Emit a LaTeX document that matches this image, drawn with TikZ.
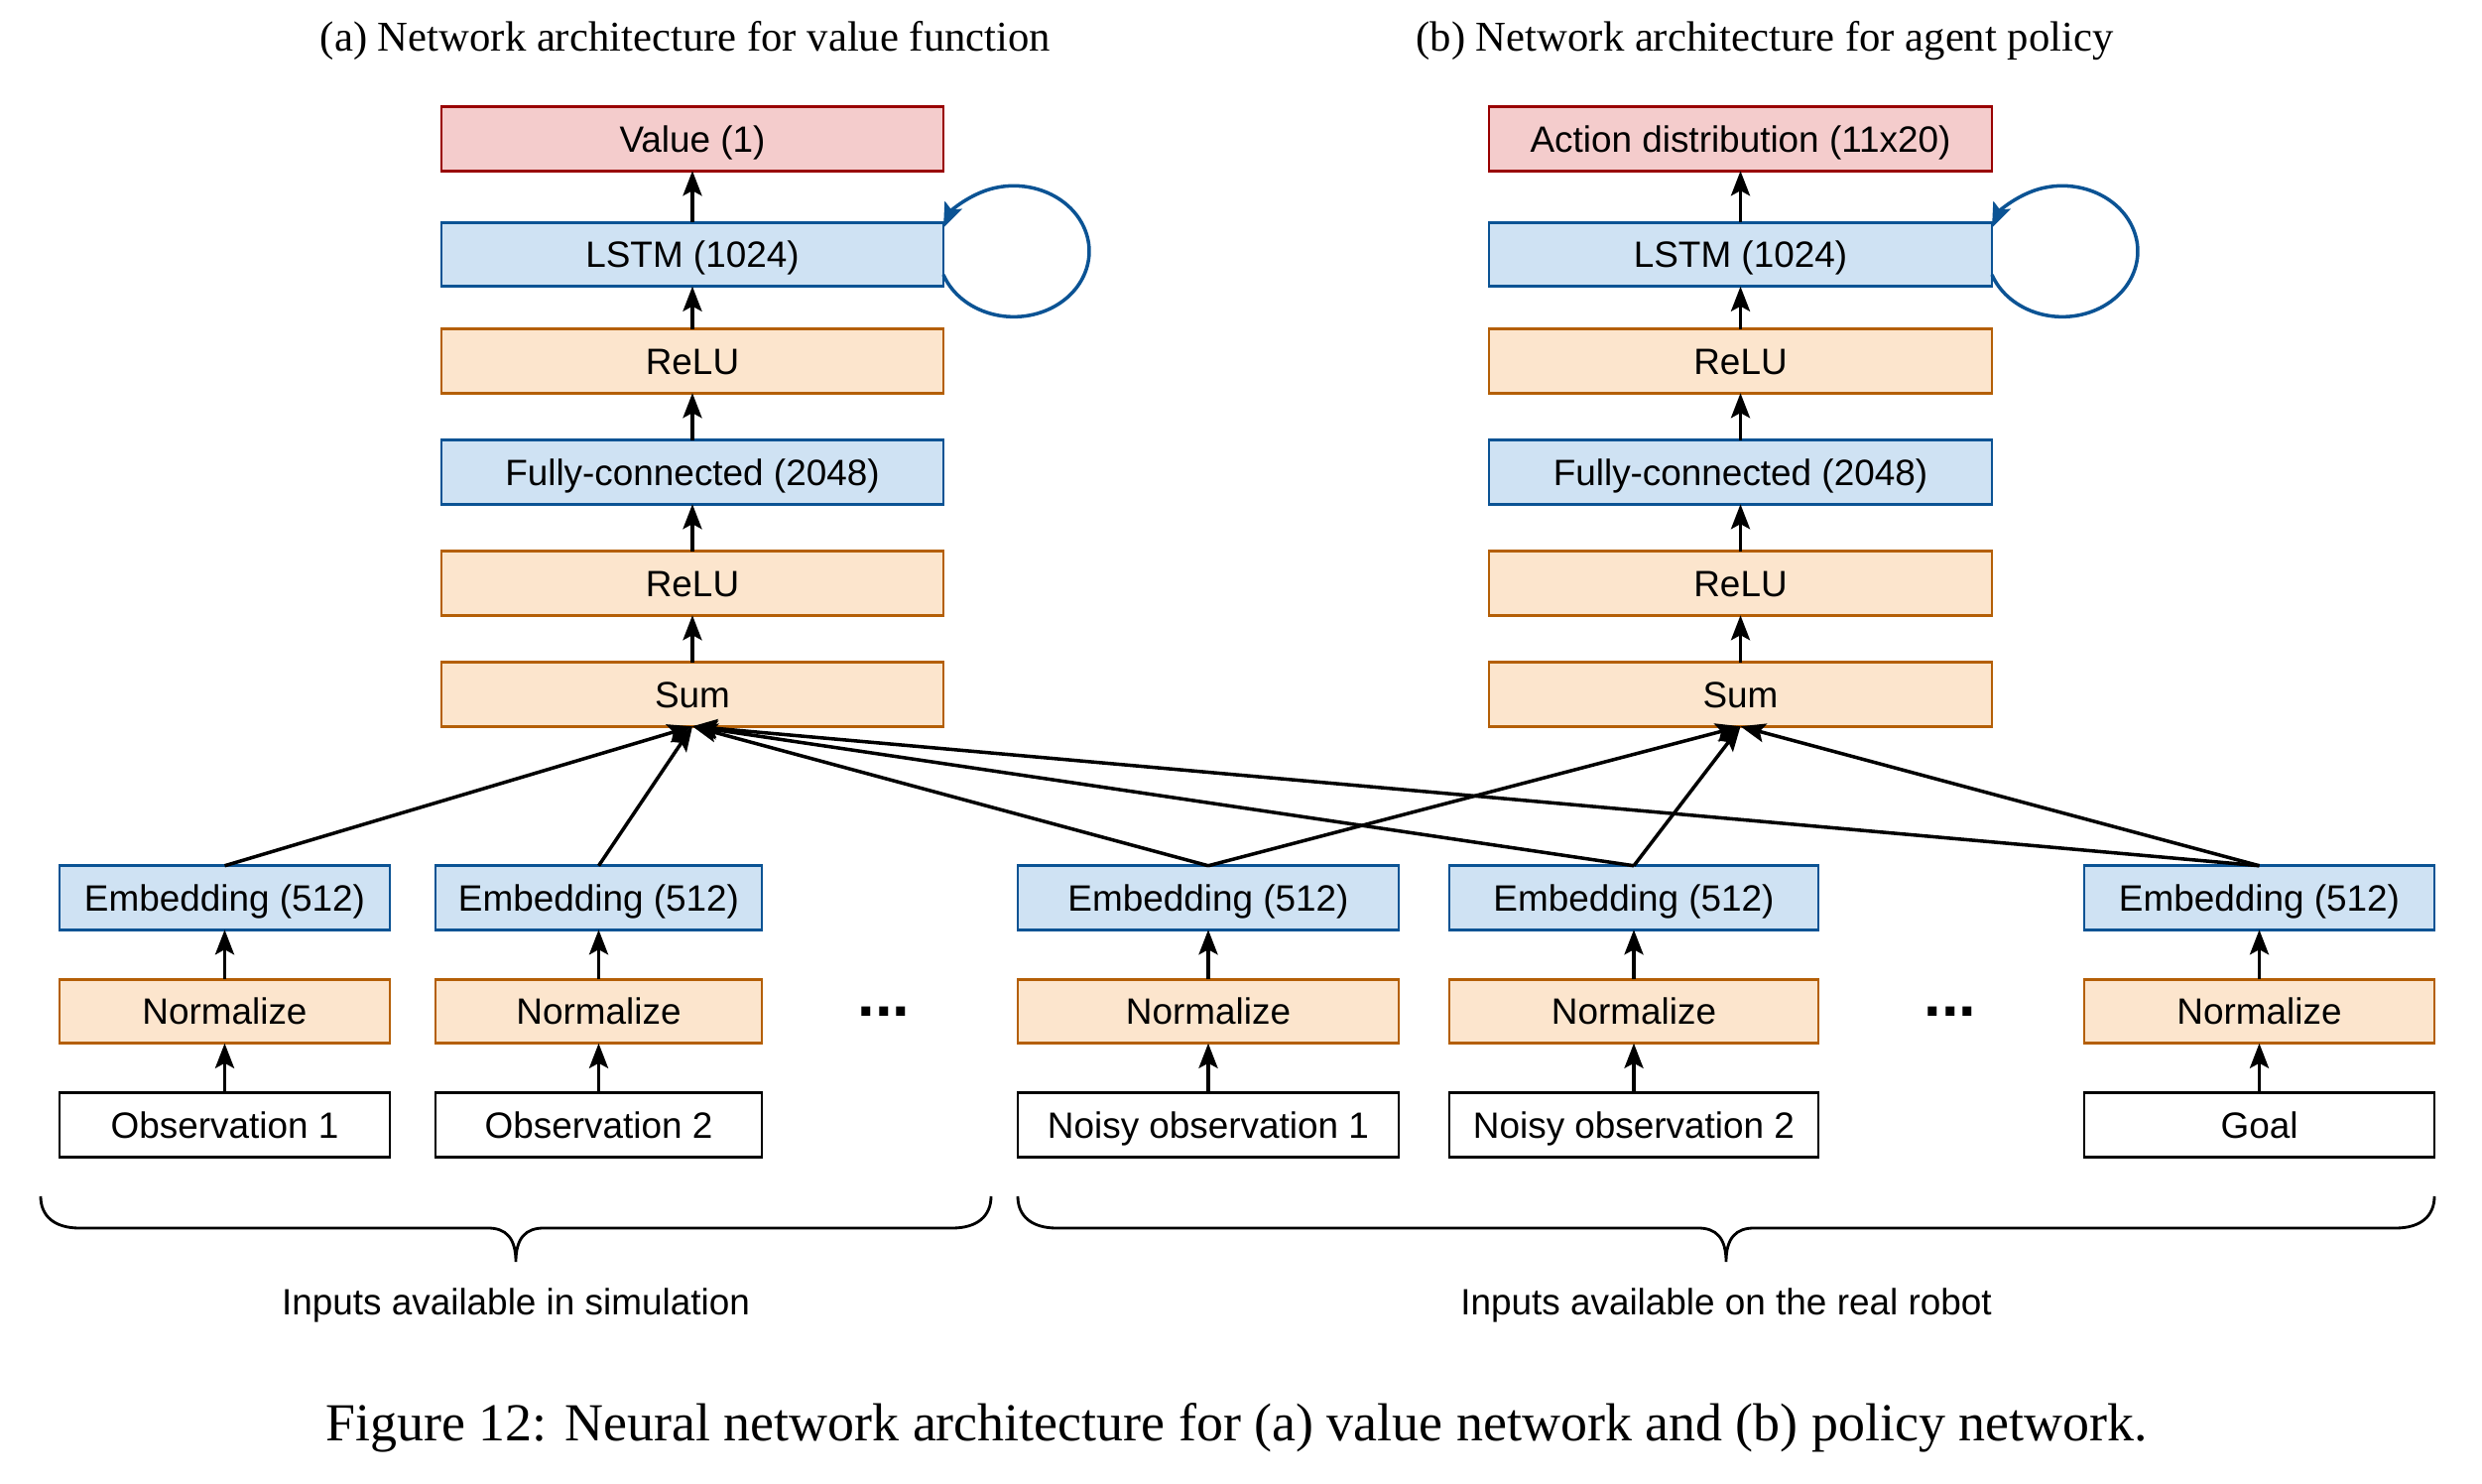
\documentclass[tikz,border=0pt]{standalone}
\usepackage{fontspec}
\setmainfont{Liberation Serif}
\setsansfont{Liberation Sans}
\usepackage{tikz}
\usetikzlibrary{arrows.meta, positioning, calc}

\definecolor{layerblue}{RGB}{207, 226, 243}
\definecolor{lineblue}{RGB}{11, 83, 148}
\definecolor{layerorange}{RGB}{252, 229, 205}
\definecolor{lineorange}{RGB}{180, 95, 6}
\definecolor{layerred}{RGB}{244, 204, 204}
\definecolor{linered}{RGB}{153, 0, 0}

\tikzset{
  layer/.style={draw, line width=0.8pt, minimum height=0.645cm, inner sep=0pt, outer sep=0pt,
    text height=7.5pt, text depth=0pt, font=\sffamily\fontsize{10.5}{12}\selectfont},
  bluebox/.style={layer, draw=lineblue, fill=layerblue},
  orangebox/.style={layer, draw=lineorange, fill=layerorange},
  redbox/.style={layer, draw=linered, fill=layerred},
  inbox/.style={layer, draw=black, fill=white},
  arr/.style={-{Stealth[length=2.5mm, width=1.9mm, inset=0.5mm]}, line width=1pt},
  sublabel/.style={font=\sffamily\fontsize{10.5}{12}\selectfont, anchor=base},
}

\begin{document}
\begin{tikzpicture}[node distance=0.475cm]
  \useasboundingbox (0,0) rectangle (25.02,-14.96);

  % Titles
  \node[anchor=base, font=\fontsize{12.15}{14}\selectfont] (titleA) at (6.91, -0.52) {(a) Network architecture for value function};
  \node[anchor=base, font=\fontsize{12.15}{14}\selectfont] (titleB) at (17.79, -0.52) {(b) Network architecture for agent policy};

  % (a) Value network
  \node[orangebox, minimum width=5.06cm] (sumA) at (6.98, -7.00) {Sum};
  \node[orangebox, minimum width=5.06cm, above=of sumA] (reluA1) {ReLU};
  \node[bluebox, minimum width=5.06cm, above=of reluA1] (fcA) {Fully-connected (2048)};
  \node[orangebox, minimum width=5.06cm, above=of fcA] (reluA2) {ReLU};
  \node[bluebox, minimum width=5.06cm, above=0.43cm of reluA2] (lstmA) {LSTM (1024)};
  \node[redbox, minimum width=5.06cm, above=0.52cm of lstmA] (valueA) {Value (1)};

  % (b) Policy network
  \node[orangebox, minimum width=5.07cm] (sumB) at (17.545, -7.00) {Sum};
  \node[orangebox, minimum width=5.07cm, above=of sumB] (reluB1) {ReLU};
  \node[bluebox, minimum width=5.07cm, above=of reluB1] (fcB) {Fully-connected (2048)};
  \node[orangebox, minimum width=5.07cm, above=of fcB] (reluB2) {ReLU};
  \node[bluebox, minimum width=5.07cm, above=0.43cm of reluB2] (lstmB) {LSTM (1024)};
  \node[redbox, minimum width=5.07cm, above=0.52cm of lstmB] (actionB) {Action distribution (11x20)};

  \foreach \c in {A, B} {
    \draw[arr] (sum\c) -- (relu\c1);
    \draw[arr] (relu\c1) -- (fc\c);
    \draw[arr] (fc\c) -- (relu\c2);
    \draw[arr] (relu\c2) -- (lstm\c);
    \draw[arr, lineblue] ([yshift=0.1175cm]lstm\c.south east) arc[start angle=201, end angle=519, x radius=0.76cm, y radius=0.66cm];
  }
  \draw[arr] (lstmA) -- (valueA);
  \draw[arr] (lstmB) -- (actionB);

  % Inputs
  \node[bluebox, minimum width=3.33cm] (embO1) at (2.265, -9.05) {Embedding (512)};
  \node[bluebox, minimum width=3.29cm] (embO2) at (6.035, -9.05) {Embedding (512)};
  \node[bluebox, minimum width=3.84cm] (embN1) at (12.18, -9.05) {Embedding (512)};
  \node[bluebox, minimum width=3.72cm] (embN2) at (16.47, -9.05) {Embedding (512)};
  \node[bluebox, minimum width=3.53cm] (embG) at (22.775, -9.05) {Embedding (512)};

  \node[orangebox, minimum width=3.33cm, below=0.5cm of embO1] (normO1) {Normalize};
  \node[orangebox, minimum width=3.29cm, below=0.5cm of embO2] (normO2) {Normalize};
  \node[orangebox, minimum width=3.84cm, below=0.5cm of embN1] (normN1) {Normalize};
  \node[orangebox, minimum width=3.72cm, below=0.5cm of embN2] (normN2) {Normalize};
  \node[orangebox, minimum width=3.53cm, below=0.5cm of embG] (normG) {Normalize};

  \node[inbox, minimum width=3.33cm, below=0.5cm of normO1] (obs1) {Observation 1};
  \node[inbox, minimum width=3.29cm, below=0.5cm of normO2] (obs2) {Observation 2};
  \node[inbox, minimum width=3.84cm, below=0.5cm of normN1] (noisy1) {Noisy observation 1};
  \node[inbox, minimum width=3.72cm, below=0.5cm of normN2] (noisy2) {Noisy observation 2};
  \node[inbox, minimum width=3.53cm, below=0.5cm of normG] (goal) {Goal};

  \node[anchor=base, font=\sffamily\bfseries\fontsize{18}{18}\selectfont] (dotsA) at (8.91, -10.245) {...};
  \node[anchor=base, font=\sffamily\bfseries\fontsize{18}{18}\selectfont] (dotsB) at (19.66, -10.245) {...};

  \draw[arr] (obs1) -- (normO1);
  \draw[arr] (obs2) -- (normO2);
  \draw[arr] (noisy1) -- (normN1);
  \draw[arr] (noisy2) -- (normN2);
  \draw[arr] (goal) -- (normG);
  \draw[arr] (normO1) -- (embO1);
  \draw[arr] (normO2) -- (embO2);
  \draw[arr] (normN1) -- (embN1);
  \draw[arr] (normN2) -- (embN2);
  \draw[arr] (normG) -- (embG);

  % Embeddings into the sums
  \draw[arr] (embO1.north) -- (sumA.south);
  \draw[arr] (embO2.north) -- (sumA.south);
  \draw[arr] (embN1.north) -- (sumA.south);
  \draw[arr] (embN2.north) -- (sumA.south);
  \draw[arr] (embG.north) -- (sumA.south);
  \draw[arr] (embN1.north) -- (sumB.south);
  \draw[arr] (embN2.north) -- (sumB.south);
  \draw[arr] (embG.north) -- (sumB.south);

  % Braces
  \draw[line width=0.8pt] (0.41,-12.06) .. controls (0.41,-12.26) and (0.55,-12.38) .. (0.80,-12.38)
    -- (4.92,-12.38) .. controls (5.10,-12.38) and (5.20,-12.48) .. (5.20,-12.72)
    .. controls (5.20,-12.48) and (5.30,-12.38) .. (5.48,-12.38)
    -- (9.60,-12.38) .. controls (9.85,-12.38) and (9.99,-12.26) .. (9.99,-12.06);
  \draw[line width=0.8pt] (10.26,-12.06) .. controls (10.26,-12.26) and (10.40,-12.38) .. (10.65,-12.38)
    -- (17.12,-12.38) .. controls (17.30,-12.38) and (17.40,-12.48) .. (17.40,-12.72)
    .. controls (17.40,-12.48) and (17.50,-12.38) .. (17.68,-12.38)
    -- (24.15,-12.38) .. controls (24.40,-12.38) and (24.54,-12.26) .. (24.54,-12.06);

  \node[sublabel] (simlabel) at (5.20, -13.25) {Inputs available in simulation};
  \node[sublabel] (robotlabel) at (17.40, -13.25) {Inputs available on the real robot};

  % Caption
  \node[anchor=base, font=\fontsize{15.35}{18}\selectfont] (caption) at (12.465, -14.52) {Figure 12: Neural network architecture for (a) value network and (b) policy network.};
\end{tikzpicture}
\end{document}
